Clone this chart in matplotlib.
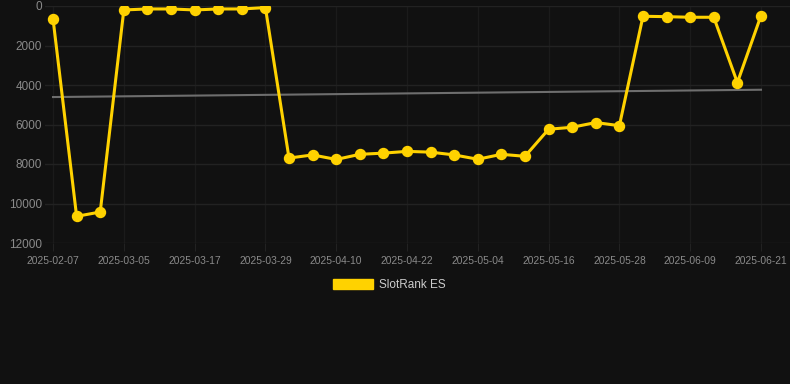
import matplotlib.pyplot as plt
from matplotlib.patches import Patch

# fechas (solo se ven cada 3)
dates = ['2025-02-07', '2025-02-16', '2025-02-25', '2025-03-05', '2025-03-09', '2025-03-13',
         '2025-03-17', '2025-03-21', '2025-03-25', '2025-03-29', '2025-04-02', '2025-04-06',
         '2025-04-10', '2025-04-14', '2025-04-18', '2025-04-22', '2025-04-26', '2025-04-30',
         '2025-05-04', '2025-05-08', '2025-05-12', '2025-05-16', '2025-05-20', '2025-05-24',
         '2025-05-28', '2025-06-01', '2025-06-05', '2025-06-09', '2025-06-13', '2025-06-17',
         '2025-06-21']
rank = [650, 10650, 10430, 200, 150, 150, 200, 150, 150, 80,
        7700, 7540, 7770, 7510, 7450, 7360, 7400, 7540, 7760, 7510, 7610,
        6240, 6140, 5900, 6060,
        520, 540, 570, 570, 3880, 490]
trend = [4610, 4240]  # inicio y fin de la linea de tendencia

bg = '#111111'
plt.rcParams['font.family'] = ['Liberation Sans', 'DejaVu Sans']

fig = plt.figure(figsize=(7.9, 3.84), dpi=100, facecolor=bg)
ax = fig.add_axes([45 / 790, 1 - 243 / 384, 1 - 45 / 790, 237 / 384], facecolor=bg)

x = list(range(len(rank)))
ax.plot([x[0], x[-1]], trend, color='#6e6e6e', lw=1.5, zorder=2)
ax.plot(x, rank, color='#FFD200', lw=2.2, marker='o', ms=7.2, zorder=3)

ax.set_xlim(-0.34, 31.23)
ax.set_ylim(12000, 0)
ax.set_yticks(range(0, 12001, 2000))
ax.set_xticks(x[::3])
ax.set_xticklabels(dates[::3])

ax.grid(True, axis='y', color='#222222', lw=1)
ax.grid(True, axis='x', color='#1b1b1b', lw=1)
ax.tick_params(axis='x', colors='#222222', labelcolor='#8a8a8a', labelsize=7.4, length=6, pad=3)
ax.tick_params(axis='y', length=0, labelcolor='#8a8a8a', labelsize=8.5, pad=2)
for s in ax.spines.values():
    s.set_visible(False)

fig.legend(handles=[Patch(facecolor='#FFD200', edgecolor='#FFD200', label='SlotRank ES')],
           loc='center', bbox_to_anchor=(389 / 790, 1 - 285 / 384), frameon=False,
           handlelength=3.4, handleheight=1.0, handletextpad=0.5,
           fontsize=8.5, labelcolor='#cccccc')

fig.savefig('out.png', dpi=100, facecolor=bg)
